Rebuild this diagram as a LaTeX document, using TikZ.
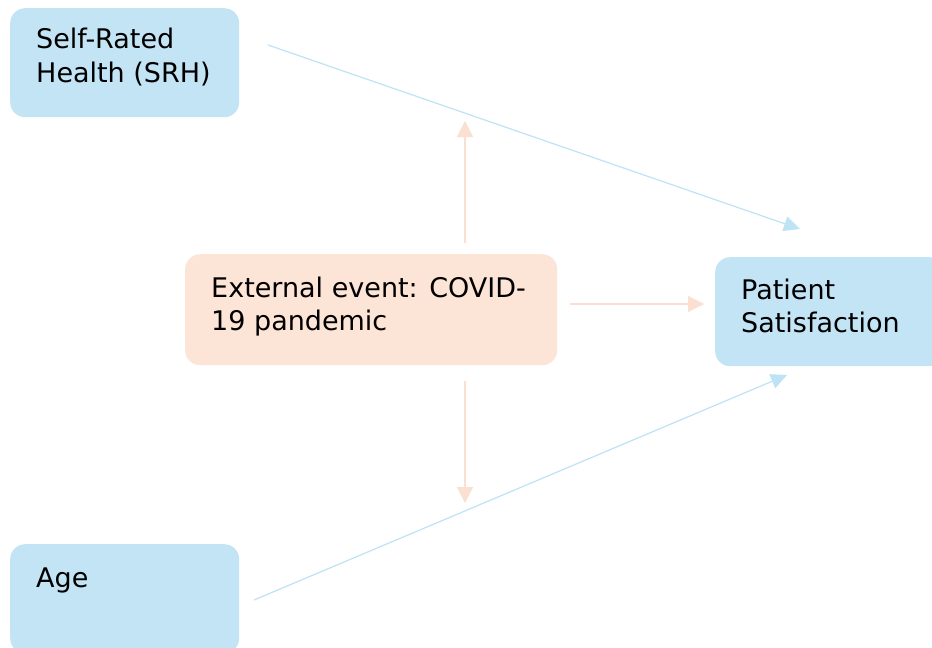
\documentclass[tikz,border=0pt]{standalone}
\usepackage{fontspec}
\setmainfont{DejaVu Sans}
\usetikzlibrary{arrows.meta}
\definecolor{bluefill}{HTML}{C2E4F5}
\definecolor{peachfill}{HTML}{FCE4D6}
\definecolor{bluearrow}{HTML}{BEE3F4}
\definecolor{peacharrow}{HTML}{FBDFD0}
\tikzset{
  boxbase/.style={draw=none, rounded corners=15pt, minimum width=229pt, minimum height=109pt, inner sep=0pt, anchor=north west},
  bluebox/.style={boxbase, fill=bluefill},
  peachbox/.style={boxbase, fill=peachfill, minimum width=372pt, minimum height=111pt},
  lbl/.style={inner sep=0pt, anchor=base west, font=\fontsize{27}{34}\selectfont, text=black},
  bluecon/.style={draw=bluearrow, line width=1.2pt, -{Triangle[length=16pt,width=15pt]}},
  peachcon/.style={draw=peacharrow, line width=1.3pt, -{Triangle[length=16pt,width=16pt]}}
}
\begin{document}
\begin{tikzpicture}[x=1pt,y=-1pt]
\useasboundingbox[fill=white] (0,0) rectangle (932,648);
% boxes
\node[bluebox] (srh) at (10,8) {};
\node[peachbox] (ext) at (185,254) {};
\node[bluebox] (ps) at (715,257) {};
\node[bluebox] (age) at (10,544) {};
% labels
\node[lbl] (srh1) at (36,48) {Self-Rated};
\node[lbl] (srh2) at (36,82) {Health (SRH)};
\node[lbl] (ext1) at (211,297) {External event: COVID-};
\node[lbl] (ext2) at (211,330) {19 pandemic};
\node[lbl] (ps1) at (741,299) {Patient};
\node[lbl] (ps2) at (741,332) {Satisfaction};
\node[lbl] (age1) at (36,587) {Age};
% connector end points
\coordinate (srhout) at (268,45);
\coordinate (psinA) at (800,229);
\coordinate (ageout) at (254,600);
\coordinate (psinB) at (787,375);
\coordinate (extright) at (570,304);
\coordinate (psinC) at (704,304);
\coordinate (extup) at (465,243);
\coordinate (uptip) at (465,121);
\coordinate (extdown) at (465,381);
\coordinate (downtip) at (465,503);
% connectors
\draw[bluecon] (srhout) -- (psinA);
\draw[bluecon] (ageout) -- (psinB);
\draw[peachcon] (extright) -- (psinC);
\draw[peachcon] (extup) -- (uptip);
\draw[peachcon] (extdown) -- (downtip);
\end{tikzpicture}
\end{document}
